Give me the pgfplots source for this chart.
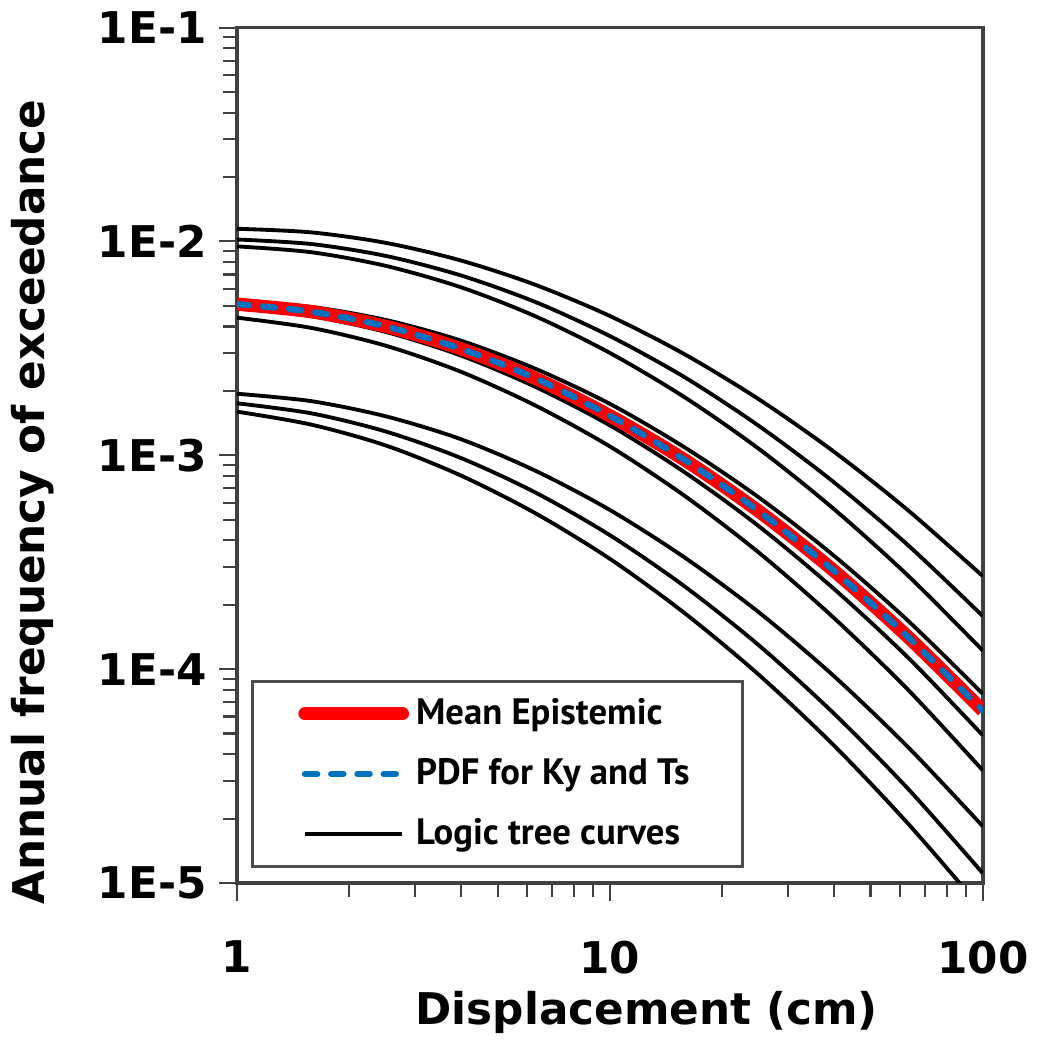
\documentclass[border=0pt]{standalone}
\usepackage{pgfplots}
\pgfplotsset{compat=1.18}
\usepackage{fontspec}
\setmainfont{DejaVu Sans}
\newfontfamily\legfont{PT Sans}
\definecolor{meanred}{RGB}{255,0,0}
\definecolor{pdfblue}{RGB}{0,112,192}
\begin{document}
\begin{tikzpicture}
\begin{axis}[
  scale only axis,
  width=7.5cm, height=8.6cm,
  xmode=log, ymode=log,
  xmin=1, xmax=100, ymin=1e-5, ymax=1e-1,
  xtick={1,10,100}, xticklabels={1,10,100},
  ytick={1e-5,1e-4,1e-3,1e-2,1e-1},
  yticklabels={1E-5,1E-4,1E-3,1E-2,1E-1},
  xtick pos=bottom, ytick pos=left,
  tick align=outside,
  major tick length=1.8mm, minor tick length=1.4mm,
  every tick/.style={black!75, line width=0.6pt},
  axis line style={black!75, line width=1pt},
  /pgf/number format/assume math mode=true,
  ticklabel style={font=\fontsize{12.5}{14}\selectfont\bfseries},
  xticklabel style={yshift=-2.8mm},
  xlabel={Displacement (cm)},
  ylabel={Annual frequency of exceedance},
  every axis x label/.style={at={(rel axis cs:0.5,0)}, anchor=center, xshift=3.7mm, yshift=-13mm, font=\fontsize{12.5}{14}\selectfont\bfseries},
  every axis y label/.style={at={(rel axis cs:0,0.5)}, anchor=center, xshift=-20.5mm, yshift=-4.7mm, rotate=90, font=\fontsize{12.5}{14}\selectfont\bfseries},
  clip=true,
  legend style={at={(rel axis cs:0.019,0.017)}, anchor=south west,
    draw=black!70, line width=0.9pt, fill=white,
    font=\legfont\fontsize{10.5}{12}\selectfont\bfseries,
    inner xsep=4.6mm, inner ysep=1mm, row sep=1.5mm,
    legend cell align=left},
  legend image code/.code={\draw[#1] (0mm,0mm) -- (9.8mm,0mm);},
]
% Logic tree curves
\addplot[black, line width=1.1pt, smooth, forget plot] coordinates {
(1,1.146e-2) (1.585,1.102e-2) (2.512,9.84e-3) (3.981,8.15e-3) (6.310,6.27e-3) (10,4.48e-3) (15.85,2.97e-3) (25.12,1.825e-3) (39.81,1.042e-3) (63.10,5.52e-4) (100,2.72e-4)};
\addplot[black, line width=1.1pt, smooth, forget plot] coordinates {
(1,1.021e-2) (1.585,9.72e-3) (2.512,8.55e-3) (3.981,6.94e-3) (6.310,5.21e-3) (10,3.61e-3) (15.85,2.32e-3) (25.12,1.37e-3) (39.81,7.50e-4) (63.10,3.79e-4) (100,1.77e-4)};
\addplot[black, line width=1.1pt, smooth, forget plot] coordinates {
(1,9.48e-3) (1.585,8.90e-3) (2.512,7.68e-3) (3.981,6.11e-3) (6.310,4.47e-3) (10,3.01e-3) (15.85,1.87e-3) (25.12,1.07e-3) (39.81,5.62e-4) (63.10,2.73e-4) (100,1.22e-4)};
\addplot[black, line width=1.1pt, smooth, forget plot] coordinates {
(1,5.25e-3) (1.585,4.94e-3) (2.512,4.29e-3) (3.981,3.44e-3) (6.310,2.54e-3) (10,1.74e-3) (15.85,1.09e-3) (25.12,6.34e-4) (39.81,3.40e-4) (63.10,1.68e-4) (100,7.66e-5)};
\addplot[black, line width=1.1pt, smooth, forget plot] coordinates {
(1,4.88e-3) (1.585,4.47e-3) (2.512,3.77e-3) (3.981,2.93e-3) (6.310,2.09e-3) (10,1.38e-3) (15.85,8.34e-4) (25.12,4.65e-4) (39.81,2.38e-4) (63.10,1.13e-4) (100,4.90e-5)};
\addplot[black, line width=1.1pt, smooth, forget plot] coordinates {
(1,4.40e-3) (1.585,3.94e-3) (2.512,3.25e-3) (3.981,2.46e-3) (6.310,1.71e-3) (10,1.10e-3) (15.85,6.47e-4) (25.12,3.50e-4) (39.81,1.74e-4) (63.10,7.99e-5) (100,3.36e-5)};
\addplot[black, line width=1.1pt, smooth, forget plot] coordinates {
(1,1.94e-3) (1.585,1.79e-3) (2.512,1.52e-3) (3.981,1.19e-3) (6.310,8.47e-4) (10,5.55e-4) (15.85,3.33e-4) (25.12,1.84e-4) (39.81,9.30e-5) (63.10,4.31e-5) (100,1.84e-5)};
\addplot[black, line width=1.1pt, smooth, forget plot] coordinates {
(1,1.75e-3) (1.585,1.57e-3) (2.512,1.29e-3) (3.981,9.72e-4) (6.310,6.70e-4) (10,4.23e-4) (15.85,2.44e-4) (25.12,1.29e-4) (39.81,6.22e-5) (63.10,2.75e-5) (100,1.11e-5)};
\addplot[black, line width=1.1pt, smooth, forget plot] coordinates {
(1,1.60e-3) (1.585,1.39e-3) (2.512,1.11e-3) (3.981,8.05e-4) (6.310,5.36e-4) (10,3.28e-4) (15.85,1.83e-4) (25.12,9.39e-5) (39.81,4.41e-5) (63.10,1.89e-5) (100,7.46e-6)};
% Mean epistemic
\addplot[meanred, line width=3.8pt, smooth, forget plot] coordinates {
(1,5.09e-3) (1.585,4.69e-3) (2.512,4.00e-3) (3.981,3.15e-3) (6.310,2.29e-3) (10,1.53e-3) (15.85,9.52e-4) (25.12,5.46e-4) (39.81,2.89e-4) (63.10,1.41e-4) (100,6.40e-5)};
% PDF for Ky and Ts
\addplot[pdfblue, line width=1.8pt, smooth, line cap=round, dash pattern=on 3.5pt off 4pt, forget plot] coordinates {
(1,5.09e-3) (1.585,4.69e-3) (2.512,4.00e-3) (3.981,3.15e-3) (6.310,2.29e-3) (10,1.53e-3) (15.85,9.52e-4) (25.12,5.46e-4) (39.81,2.89e-4) (63.10,1.41e-4) (100,6.40e-5)};
\addlegendimage{meanred, line width=3.8pt, line cap=round}
\addlegendentry{Mean Epistemic}
\addlegendimage{pdfblue, line width=1.8pt, line cap=round, dash pattern=on 3.5pt off 4pt}
\addlegendentry{PDF for Ky and Ts}
\addlegendimage{black, line width=1.1pt}
\addlegendentry{Logic tree curves}
\end{axis}
\end{tikzpicture}
\end{document}
